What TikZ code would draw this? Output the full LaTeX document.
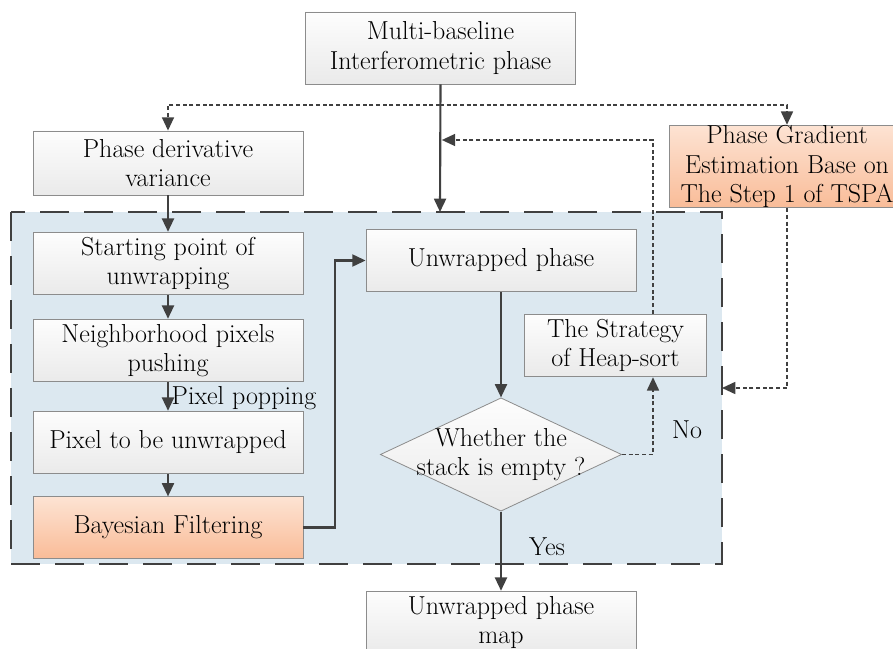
\documentclass[tikz,border=0pt]{standalone}
\usetikzlibrary{arrows.meta,shapes.geometric}

\definecolor{linegray}{HTML}{404040}
\definecolor{boxline}{HTML}{8C8C8C}
\definecolor{panelblue}{HTML}{DCE8F0}
\definecolor{boxtop}{HTML}{FDFDFD}
\definecolor{boxbot}{HTML}{EAEAEA}
\definecolor{orangetop}{HTML}{FDE3D3}
\definecolor{orangebot}{HTML}{F9BC98}

\tikzset{
  stepbox/.style={draw=boxline, line width=0.6pt, top color=boxtop, bottom color=boxbot,
    minimum width=202.5pt, minimum height=47pt, align=center, inner sep=2pt},
  hotbox/.style={stepbox, top color=orangetop, bottom color=orangebot},
  decision/.style={diamond, draw=boxline, line width=0.6pt, top color=boxtop, bottom color=boxbot,
    aspect=2.13, minimum width=181pt, minimum height=85pt, inner xsep=0pt, inner ysep=-9.5pt, align=center},
  flow/.style={draw=linegray, line width=1.6pt, -{Triangle[length=10pt,width=9pt]}},
  loopline/.style={draw=linegray, line width=1.3pt, dash pattern=on 3pt off 2pt,
    -{Triangle[length=10pt,width=9pt]}},
  panel/.style={draw=linegray, fill=panelblue, line width=2.2pt, dash pattern=on 22pt off 11pt}
}

\begin{document}
\begin{tikzpicture}[x=0.75pt, y=-0.75pt, font=\fontsize{19.5}{22}\selectfont]

\clip (0,0) rectangle (893,649);

% dashed panel
\draw[panel] (11,212) rectangle (722,564);

\node[stepbox, minimum width=203pt, minimum height=54pt] (input) at (440.5,48) {Multi-baseline\\Interferometric phase};
\node[stepbox, minimum height=48pt] (deriv) at (168,163) {Phase derivative\\variance};
\node[hotbox, minimum width=177pt, minimum height=62pt, inner sep=0pt] (grad) at (787,166.5) {Phase Gradient\\Estimation Base on\\The Step 1 of TSPA};

\node[stepbox] (start) at (168,263.5) {Starting point of\\unwrapping};
\node[stepbox] (neigh) at (168,350.5) {Neighborhood pixels\\pushing};
\node[stepbox] (pix) at (168,442.5) {Pixel to be unwrapped};
\node[hotbox, minimum height=46pt] (bayes) at (168,527.5) {Bayesian Filtering};

\node[stepbox] (unw) at (501,260.5) {Unwrapped phase};
\node[stepbox, minimum width=137pt] (heap) at (615.5,345.5) {The Strategy\\of Heap-sort};
\node[decision] (dec) at (501,454.5) {Whether the\\stack is empty ?};
\node[stepbox] (out) at (501,622.5) {Unwrapped phase\\map};

\coordinate (split) at (440,105);
\coordinate (cin) at (440,212);
\coordinate (loop) at (653,140);
\coordinate (cright) at (722,388);

% main flow
\draw[flow] (input.south) -- (cin);
\draw[flow] (deriv) -- (start);
\draw[flow] (start) -- (neigh);
\draw[flow] (neigh) -- node[right, inner sep=2pt, yshift=-1pt]{Pixel popping} (pix);
\draw[flow] (pix) -- (bayes);
\draw[flow] (bayes.east) -- ++(32,0) |- (unw.west);
\draw[flow] (unw) -- (dec);
\draw[flow] (dec.south) -- (out.north);
\node at (547,547) {Yes};

% dotted links
\draw[loopline] (split) -| (deriv.north);
\draw[loopline] (split) -| (grad.north);
\draw[loopline] (dec.east) -| (loop |- heap.south);
\node at (687,430) {No};
\draw[loopline] (loop |- heap.north) -- (loop) -- ([xshift=1pt]loop -| input.south);
\draw[loopline] (grad.south) |- (cright);

\end{tikzpicture}
\end{document}
